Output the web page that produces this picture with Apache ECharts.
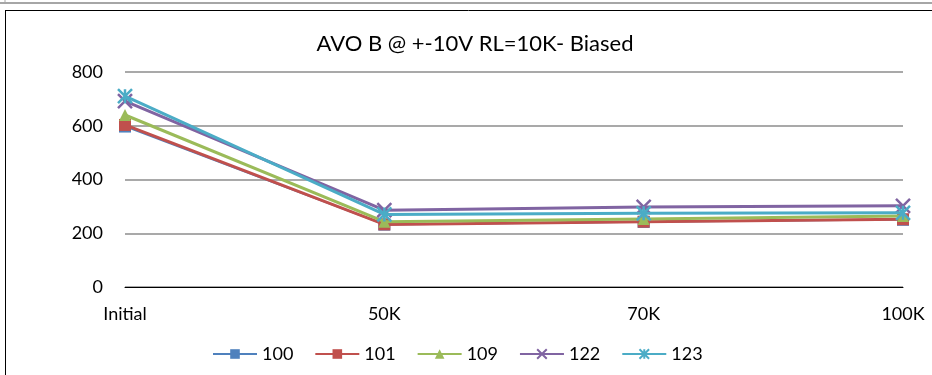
<!DOCTYPE html>
<html>
<head>
<meta charset="utf-8">
<script src="https://cdn.jsdelivr.net/npm/echarts@6/dist/echarts.min.js"></script>
<style>
  html, body { margin: 0; padding: 0; background: #fff; }
  #chart { width: 932px; height: 375px; }
</style>
</head>
<body>
<div id="chart"></div>
<script>
  var categories = ['Initial', '50K', '70K', '100K'];
  var seriesNames = ['100', '101', '109', '122', '123'];
  var s100 = [597, 232, 242, 250];
  var s101 = [603, 233, 243, 252];
  var s109 = [640, 243, 253, 264];
  var s122 = [692, 286, 298, 302];
  var s123 = [710, 270, 274, 276];
  var yTicks = [0, 200, 400, 600, 800];

  var colors = ['#4F81BD', '#C0504D', '#9BBB59', '#8064A2', '#4BACC6'];
  var symbols = ['rect', 'rect', 'triangle',
    'path://M0,0L2,2M2,0L0,2',
    'path://M0,0L2,2M2,0L0,2M1,0L1,2'];
  var values = [s100, s101, s109, s122, s123];

  var myChart = echarts.init(document.getElementById('chart'));
  var font = 'Lato, "Open Sans", sans-serif';

  var series = seriesNames.map(function (name, i) {
    var cross = i >= 3;
    return {
      name: name,
      type: 'line',
      data: values[i],
      symbol: symbols[i],
      symbolSize: cross ? 14 : 12,
      showSymbol: true,
      lineStyle: { color: colors[i], width: i === 0 ? 1.5 : 3 },
      itemStyle: cross
        ? { color: 'none', borderColor: colors[i], borderWidth: 2.5 }
        : { color: colors[i] },
      z: 2 + i
    };
  });

  myChart.setOption({
    animation: false,
    color: colors,
    title: {
      text: 'AVO B @ +-10V RL=10K- Biased',
      left: 470,
      top: 28,
      textAlign: 'center',
      textStyle: { fontFamily: font, fontSize: 22, fontWeight: 'normal', color: '#000' }
    },
    legend: {
      bottom: 7,
      left: 207,
      itemWidth: 44,
      itemHeight: 12,
      itemGap: 21,
      textStyle: { fontFamily: font, fontSize: 18, color: '#000' },
      data: seriesNames
    },
    grid: { left: 125, right: 29, top: 72, bottom: 88 },
    xAxis: {
      type: 'category',
      data: categories,
      boundaryGap: false,
      axisLine: { lineStyle: { color: '#000', width: 1 } },
      axisTick: { show: false },
      axisLabel: { fontFamily: font, fontSize: 18, color: '#000', margin: 18 }
    },
    yAxis: {
      type: 'value',
      min: yTicks[0],
      max: yTicks[yTicks.length - 1],
      interval: 200,
      axisLine: { show: false },
      axisTick: { show: false },
      axisLabel: { fontFamily: font, fontSize: 18, color: '#000', margin: 22 },
      splitLine: { lineStyle: { color: '#8c8c8c', width: 1.5 } }
    },
    graphic: [
      { type: 'line', shape: { x1: 0, y1: 3, x2: 932, y2: 3 }, style: { stroke: '#a6a6a6', lineWidth: 2 } },
      { type: 'line', shape: { x1: 5, y1: 0, x2: 5, y2: 3 }, style: { stroke: '#a6a6a6', lineWidth: 1 } },
      { type: 'line', shape: { x1: 5, y1: 10.5, x2: 932, y2: 10.5 }, style: { stroke: '#000', lineWidth: 1 } },
      { type: 'line', shape: { x1: 5.5, y1: 10, x2: 5.5, y2: 375 }, style: { stroke: '#000', lineWidth: 1 } }
    ],
    series: series
  });
</script>
</body>
</html>
